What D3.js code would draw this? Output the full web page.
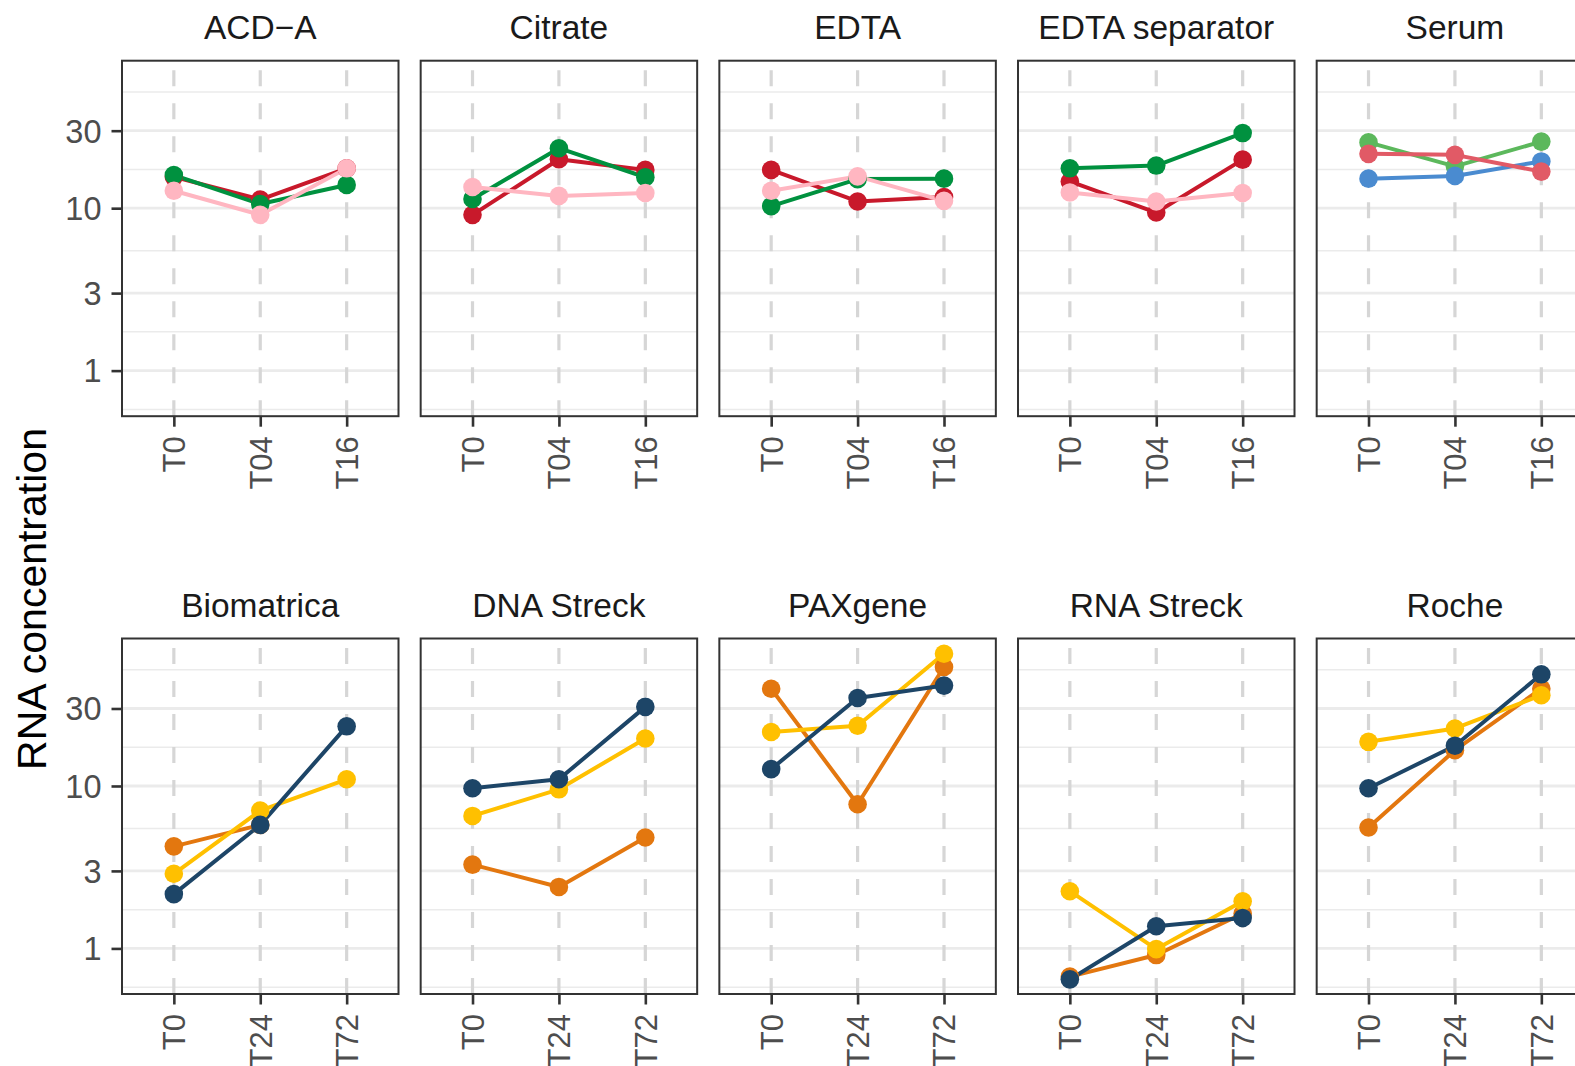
<!DOCTYPE html>
<html><head><meta charset="utf-8">
<script src="https://cdn.jsdelivr.net/npm/d3@7"></script>
<style>
body{margin:0;background:#fff;}
svg{display:block;font-family:"Liberation Sans",Arial,Helvetica,sans-serif;}
</style>
</head><body><div id="chart"></div>
<script>
// ---------- DATA ----------
const topPanels = ["ACD\u2212A","Citrate","EDTA","EDTA separator","Serum"];
const bottomPanels = ["Biomatrica","DNA Streck","PAXgene","RNA Streck","Roche"];
const topTimes = ["T0","T04","T16"];
const bottomTimes = ["T0","T24","T72"];
const yTicks = [1,3,10,30];
const yMinorTicks = [0.577,1.732,5.477,17.32,51.96];
const yTitle = "RNA concentration";

// top row, series order: red, green, pink
const acdRed   = [15.6,11.3,17.6];
const acdGreen = [16.0,10.6,13.9];
const acdPink  = [12.8,9.1,17.6];
const citRed   = [9.1,20.0,17.2];
const citGreen = [11.4,23.4,15.5];
const citPink  = [13.5,11.9,12.4];
const edtaRed   = [17.2,11.0,11.7];
const edtaGreen = [10.3,15.1,15.2];
const edtaPink  = [12.8,15.7,11.1];
const sepRed   = [14.6,9.4,19.9];
const sepGreen = [17.6,18.3,29.0];
const sepPink  = [12.5,11.0,12.4];
// serum: green, blue, red
const serGreen = [25.4,18.1,25.7];
const serBlue  = [15.2,15.8,19.4];
const serRed   = [21.6,21.3,16.8];
// bottom row: orange, yellow, navy
const bioOrange = [4.25,5.76,null];
const bioYellow = [2.88,7.06,11.0];
const bioNavy   = [2.16,5.76,23.3];
const dnaOrange = [3.28,2.39,4.82];
const dnaYellow = [6.54,9.54,19.6];
const dnaNavy   = [9.68,11.0,30.7];
const paxOrange = [39.7,7.72,54.0];
const paxYellow = [21.5,23.5,65.2];
const paxNavy   = [12.7,34.8,41.5];
const rnaOrange = [0.67,0.91,1.64];
const rnaYellow = [2.25,0.99,1.95];
const rnaNavy   = [0.645,1.37,1.54];
const rocOrange = [5.55,16.6,39.7];
const rocYellow = [18.7,22.6,36.2];
const rocNavy   = [9.68,17.7,48.7];

const C = {red:"#C8192B",green:"#00913F",pink:"#FFB6C1",
           sGreen:"#5CB85C",sBlue:"#4A8BD0",sRed:"#E15A66",
           orange:"#E3770F",yellow:"#FFC000",navy:"#1D4567"};

const rows = [
  {times: topTimes, panels: [
    {name: topPanels[0], series: [[acdRed,C.red],[acdGreen,C.green],[acdPink,C.pink]]},
    {name: topPanels[1], series: [[citRed,C.red],[citGreen,C.green],[citPink,C.pink]]},
    {name: topPanels[2], series: [[edtaRed,C.red],[edtaGreen,C.green],[edtaPink,C.pink]]},
    {name: topPanels[3], series: [[sepRed,C.red],[sepGreen,C.green],[sepPink,C.pink]]},
    {name: topPanels[4], series: [[serGreen,C.sGreen],[serBlue,C.sBlue],[serRed,C.sRed]]}
  ]},
  {times: bottomTimes, panels: [
    {name: bottomPanels[0], series: [[bioOrange,C.orange],[bioYellow,C.yellow],[bioNavy,C.navy]]},
    {name: bottomPanels[1], series: [[dnaOrange,C.orange],[dnaYellow,C.yellow],[dnaNavy,C.navy]]},
    {name: bottomPanels[2], series: [[paxOrange,C.orange],[paxYellow,C.yellow],[paxNavy,C.navy]]},
    {name: bottomPanels[3], series: [[rnaOrange,C.orange],[rnaYellow,C.yellow],[rnaNavy,C.navy]]},
    {name: bottomPanels[4], series: [[rocOrange,C.orange],[rocYellow,C.yellow],[rocNavy,C.navy]]}
  ]}
];

// ---------- LAYOUT ----------
const W = 1575, H = 1066;
const panelLeft0 = 122, panelW = 276.5, panelPitch = 298.67;
const rowTops = [60.7, 638.5], panelH = 355.5;

const svg = d3.select("#chart").append("svg").attr("width",W).attr("height",H);
svg.append("rect").attr("width",W).attr("height",H).attr("fill","#fff");

const y = d3.scaleLog().domain([0.524, 80.9]).range([panelH, 0]);

rows.forEach((row, ri) => {
  const x = d3.scalePoint().domain(row.times).range([0, panelW]).padding(0.6);
  row.panels.forEach((p, pi) => {
    const g = svg.append("g").attr("transform",`translate(${panelLeft0 + pi*panelPitch},${rowTops[ri]})`);
    // minor grid
    g.selectAll(".mn").data(yMinorTicks).join("line")
      .attr("x1",0).attr("x2",panelW).attr("y1",d=>y(d)).attr("y2",d=>y(d))
      .attr("stroke","#EBEBEB").attr("stroke-width",1.5);
    // major grid
    g.selectAll(".mj").data(yTicks).join("line")
      .attr("x1",0).attr("x2",panelW).attr("y1",d=>y(d)).attr("y2",d=>y(d))
      .attr("stroke","#EBEBEB").attr("stroke-width",2.8);
    // vertical dashed grid
    g.selectAll(".vg").data(row.times).join("line")
      .attr("x1",d=>x(d)).attr("x2",d=>x(d)).attr("y1",panelH).attr("y2",0)
      .attr("stroke","#D6D6D6").attr("stroke-width",3.2).attr("stroke-dasharray","16,17");
    // lines
    const line = d3.line().defined(d=>d.v!=null).x(d=>x(d.t)).y(d=>y(d.v));
    p.series.forEach(([vals,col]) => {
      const pts = vals.map((v,i)=>({t:row.times[i], v}));
      g.append("path").datum(pts).attr("d",line).attr("fill","none")
        .attr("stroke",col).attr("stroke-width",4).attr("stroke-linejoin","round");
    });
    p.series.forEach(([vals,col]) => {
      const pts = vals.map((v,i)=>({t:row.times[i], v})).filter(d=>d.v!=null);
      g.selectAll(null).data(pts).join("circle")
        .attr("cx",d=>x(d.t)).attr("cy",d=>y(d.v)).attr("r",9.3).attr("fill",col);
    });
    // border
    g.append("rect").attr("x",0).attr("y",0).attr("width",panelW).attr("height",panelH)
      .attr("fill","none").attr("stroke","#333333").attr("stroke-width",2);
    // strip title
    g.append("text").attr("x",panelW/2).attr("y",-21.5).attr("text-anchor","middle")
      .attr("font-size",33.5).attr("fill","#1A1A1A").text(p.name);
    // x axis
    const xa = g.append("g").attr("transform",`translate(0,${panelH})`)
      .call(d3.axisBottom(x).tickSize(10.5).tickPadding(0));
    xa.select(".domain").remove();
    xa.selectAll(".tick line").attr("stroke","#333333").attr("stroke-width",2.6);
    xa.selectAll(".tick text").attr("fill","#4D4D4D").attr("font-size",31)
      .attr("font-family",null)
      .attr("transform","rotate(-90)").attr("text-anchor","end")
      .attr("x",-20).attr("y",0).attr("dy","0.35em");
    // y axis only first column
    if (pi === 0) {
      const ya = g.append("g").call(d3.axisLeft(y).tickValues(yTicks).tickFormat(d3.format("d")).tickSize(10.5).tickPadding(10));
      ya.select(".domain").remove();
      ya.selectAll(".tick line").attr("stroke","#333333").attr("stroke-width",2.6);
      ya.selectAll(".tick text").attr("fill","#4D4D4D").attr("font-size",32.5)
        .attr("font-family",null).attr("dy","0.35em");
    }
  });
});

svg.append("text").attr("transform","translate(46,599) rotate(-90)")
  .attr("text-anchor","middle").attr("font-size",41).attr("fill","#000").text(yTitle);
</script>
</body></html>
